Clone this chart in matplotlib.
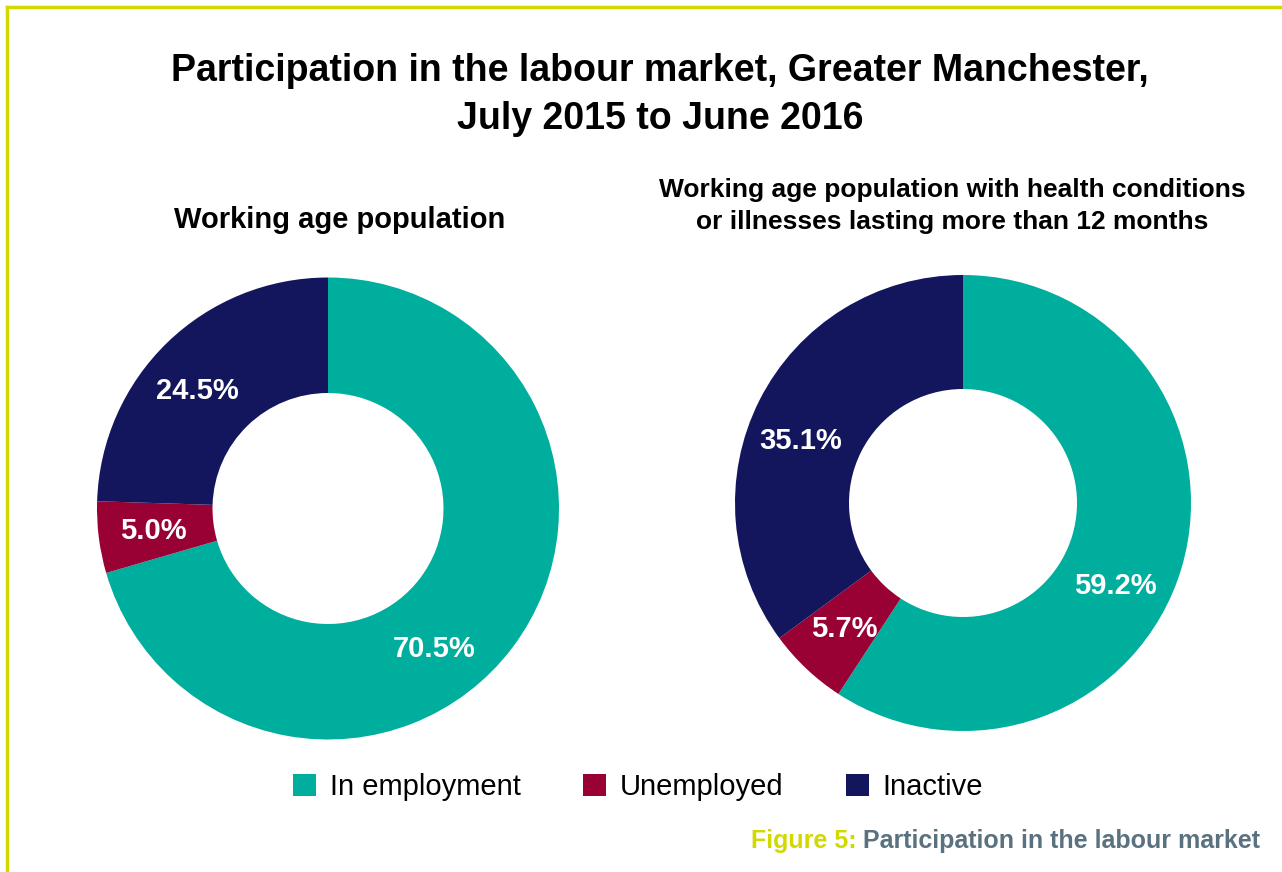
import numpy as np
import matplotlib
matplotlib.use('Agg')
import matplotlib.pyplot as plt
from matplotlib.patches import Patch
from matplotlib.lines import Line2D

plt.rcParams['font.family'] = ['Liberation Sans', 'DejaVu Sans']

# 数据
categories = ['In employment', 'Unemployed', 'Inactive']
all_pop = [70.5, 5.0, 24.5]
health_pop = [59.2, 5.7, 35.1]
colors = ['#00AE9D', '#990033', '#13165C']

title = 'Participation in the labour market, Greater Manchester,\nJuly 2015 to June 2016'
sub_left = 'Working age population'
sub_right = 'Working age population with health conditions\nor illnesses lasting more than 12 months'
border_col = '#D2D900'

fig = plt.figure(figsize=(12.82, 8.72), dpi=100)
W, H = 1282, 872


def donut(box, values, shift):
    ax = fig.add_axes(box)
    wedges, _ = ax.pie(values, colors=colors, startangle=90, counterclock=False,
                       radius=1, wedgeprops=dict(width=0.5, linewidth=0))
    ax.set_xlim(-1, 1)
    ax.set_ylim(-1, 1)
    ax.set_aspect('equal')
    ax.axis('off')
    # 标签放在环的中间
    for w, v, s in zip(wedges, values, shift):
        ang = np.deg2rad((w.theta1 + w.theta2) / 2 + s)
        ax.text(0.76 * np.cos(ang), 0.76 * np.sin(ang), f'{v:.1f}%',
                ha='center', va='center', color='white',
                fontsize=21, fontweight='bold')
    return ax


# 左: 中心(328,508) 半径231; 右: 中心(963,503) 半径228
donut([97 / W, 1 - 740 / H, 462 / W, 463 / H], all_pop, [-16, 0, 4])
donut([735 / W, 1 - 731 / H, 456 / W, 456 / H], health_pop, [-12, 0, 6])

fig.text(660 / W, 1 - 95 / H, title, ha='center', va='center',
         fontsize=27, fontweight='bold', linespacing=1.45)
fig.text(340 / W, 1 - 220 / H, sub_left, ha='center', va='center',
         fontsize=21, fontweight='bold')
fig.text(952 / W, 1 - 206 / H, sub_right, ha='center', va='center',
         fontsize=19, fontweight='bold', linespacing=1.4)

handles = [Patch(facecolor=c, edgecolor='none') for c in colors]
fig.legend(handles, categories, loc='center', bbox_to_anchor=(638 / W, 1 - 787 / H),
           ncol=3, frameon=False, fontsize=21, handlelength=0.8, handleheight=0.8,
           handletextpad=0.45, columnspacing=2.15)

# 边框 (上, 左)
fig.add_artist(Line2D([7 / W, 1], [1 - 7 / H, 1 - 7 / H], color=border_col, lw=2.5,
                      transform=fig.transFigure))
fig.add_artist(Line2D([7 / W, 7 / W], [0, 1 - 7 / H], color=border_col, lw=2.5,
                      transform=fig.transFigure))

# 图注
cap2 = fig.text(1260 / W, 1 - 841 / H, 'Participation in the labour market',
                ha='right', va='center', fontsize=18, fontweight='bold', color='#5A7180')
fig.canvas.draw()
bb = cap2.get_window_extent()
fig.text(bb.x0 / W - 6 / W, 1 - 841 / H, 'Figure 5:', ha='right', va='center',
         fontsize=18, fontweight='bold', color=border_col)

fig.savefig('out.png', dpi=100)
